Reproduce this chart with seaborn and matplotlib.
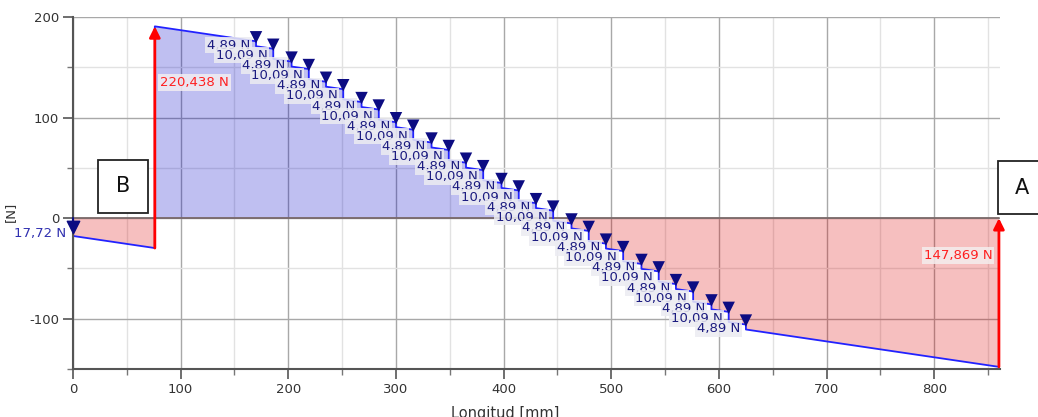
import numpy as np
import pandas as pd
import matplotlib
matplotlib.use("Agg")
import matplotlib.pyplot as plt
import seaborn as sns
from matplotlib.patches import Rectangle
from matplotlib.ticker import MultipleLocator

# ---------------- data ----------------
beam_length = 860            # mm, support A at the right end
support_B_x = 76             # mm
reaction_B = 220.438         # N (up)
reaction_A = 147.869         # N (up)
end_load = 17.72             # N (down) at x = 0
end_load_label = "17,72 N"
reaction_B_label = "220,438 N"
reaction_A_label = "147,869 N"

load_x = [170, 186, 203, 219, 235, 251, 268, 284, 300, 316, 333, 349, 365, 381, 398,
          414, 430, 446, 463, 479, 495, 511, 528, 544, 560, 576, 593, 609, 625]
load_val = [4.89, 10.09, 4.89, 10.09, 4.89, 10.09, 4.89, 10.09, 4.89, 10.09,
            4.89, 10.09, 4.89, 10.09, 4.89, 10.09, 4.89, 10.09, 4.89, 10.09,
            4.89, 10.09, 4.89, 10.09, 4.89, 10.09, 4.89, 10.09, 4.89]
load_labels = ["4,89 N" if v < 5 else "10,09 N" for v in load_val]

# uniformly distributed load (self weight) closing the equilibrium
dist_load = (reaction_B + reaction_A - end_load - sum(load_val)) / beam_length

# ---------------- shear diagram vertices ----------------
events = [(support_B_x, reaction_B)] + [(x, -p) for x, p in zip(load_x, load_val)]
xs, vs = [0.0], [-end_load]
V, xp = -end_load, 0.0
v_before = []
for x, d in events:
    V -= dist_load * (x - xp)
    xs.append(x); vs.append(V)
    if d < 0:
        v_before.append(V)
    V += d
    xs.append(x); vs.append(V)
    xp = x
V -= dist_load * (beam_length - xp)
xs.append(beam_length); vs.append(V)
shear = pd.DataFrame({"x": xs, "V": vs})

# ---------------- figure ----------------
sns.set_theme(style="white")
plt.rcParams["font.family"] = ["DejaVu Sans"]
plt.rcParams["axes.unicode_minus"] = False

fig = plt.figure(figsize=(10.38, 4.17), dpi=100)
ax = fig.add_axes([73 / 1038, 48 / 417, 927 / 1038, 352 / 417])
ax.set_xlim(0, 861)
ax.set_ylim(-150, 200)
ax.set_axisbelow(True)

ax.xaxis.set_major_locator(MultipleLocator(100))
ax.xaxis.set_minor_locator(MultipleLocator(50))
ax.yaxis.set_major_locator(MultipleLocator(100))
ax.yaxis.set_minor_locator(MultipleLocator(50))
ax.grid(which="major", color="#a8a8a8", lw=1.0)
ax.grid(which="minor", color="#e2e2e2", lw=1.0)
ax.tick_params(which="major", direction="out", length=7, width=1.2, color="#555555",
               labelsize=9.5, labelcolor="#333333", left=True, bottom=True, pad=3)
ax.tick_params(which="minor", direction="out", length=4, width=1.0, color="#777777",
               left=True, bottom=True)
for s in ["top", "right"]:
    ax.spines[s].set_visible(False)
for s in ["left", "bottom"]:
    ax.spines[s].set_color("#555555")
    ax.spines[s].set_linewidth(1.5)

# fills
ax.fill_between(shear["x"], shear["V"], 0, where=shear["V"] >= 0, interpolate=True,
                color="#0000c8", alpha=0.25, lw=0, zorder=1)
ax.fill_between(shear["x"], shear["V"], 0, where=shear["V"] <= 0, interpolate=True,
                color="#dc0000", alpha=0.25, lw=0, zorder=1)
ax.plot([0, beam_length], [0, 0], color="#7a6a6a", lw=1.3, zorder=1.5)

# shear line
sns.lineplot(data=shear, x="x", y="V", sort=False, estimator=None, ax=ax,
             color="#2222ff", lw=1.3, zorder=2)

# point-load labels and triangles
for x, p, vb, lab in zip(load_x, load_val, v_before, load_labels):
    ax.text(x - 5.5, vb - p / 2 - 1.5, lab, ha="right", va="center", fontsize=9.5,
            color="#1c1c80", zorder=3,
            bbox=dict(boxstyle="square,pad=0.12", fc="#ececf2", ec="none", alpha=0.85))
tri = pd.DataFrame({"x": load_x, "y": [v + 4 for v in v_before]})
sns.scatterplot(data=tri, x="x", y="y", marker="v", s=80, color="#0c0c82",
                edgecolor="none", ax=ax, zorder=4)
ax.set_xlabel("")
ax.set_ylabel("")

# end load at x = 0
ax.plot([0, 0], [0, -8], color="#0c0c82", lw=1.5, zorder=4, clip_on=False)
ax.scatter([0], [-9], marker="v", s=80, color="#0c0c82", zorder=4, clip_on=False)
ax.text(-6, -15, end_load_label, ha="right", va="center", fontsize=9.5,
        color="#3030b0", clip_on=False)

# reactions (red arrows)
vB_low = vs[xs.index(support_B_x)]
ax.annotate("", xy=(support_B_x, vB_low + reaction_B), xytext=(support_B_x, vB_low),
            arrowprops=dict(arrowstyle="-|>", color="#ff0000", lw=2, mutation_scale=16,
                            shrinkA=0, shrinkB=0), zorder=5)
ax.annotate("", xy=(beam_length, 0), xytext=(beam_length, -reaction_A),
            arrowprops=dict(arrowstyle="-|>", color="#ff0000", lw=2, mutation_scale=16,
                            shrinkA=0, shrinkB=0), zorder=5, annotation_clip=False)
ax.text(support_B_x + 5, 135, reaction_B_label, ha="left", va="center", fontsize=9.5,
        color="#ff2020", zorder=5,
        bbox=dict(boxstyle="square,pad=0.15", fc="#f2eef2", ec="none", alpha=0.85))
ax.text(beam_length - 6, -37, reaction_A_label, ha="right", va="center", fontsize=9.5,
        color="#ff2020", zorder=5,
        bbox=dict(boxstyle="square,pad=0.15", fc="#f4eeee", ec="none", alpha=0.85))

# support boxes B and A
def px_box(x0, x1, y0, y1, letter, cx):
    W, H = 1038, 417
    fig.patches.append(Rectangle((x0 / W, 1 - y1 / H), (x1 - x0) / W, (y1 - y0) / H,
                                 transform=fig.transFigure, fc="white", ec="#222222",
                                 lw=1.3, zorder=6))
    fig.text(cx / W, 1 - (y0 + y1) / 2 / H, letter, ha="center", va="center",
             fontsize=15, color="#111111", zorder=7)

px_box(98, 148, 160, 213, "B", 123)
px_box(998, 1050, 161, 214, "A", 1022)

# axis titles
fig.text(10 / 1038, 1 - 212 / 417, "[N]", rotation=90, ha="center", va="center",
         fontsize=9.5, color="#333333")
fig.text(505 / 1038, 1 - 406 / 417, "Longitud [mm]", ha="center", va="top",
         fontsize=10.5, color="#333333")

fig.savefig("out.png", dpi=100)
